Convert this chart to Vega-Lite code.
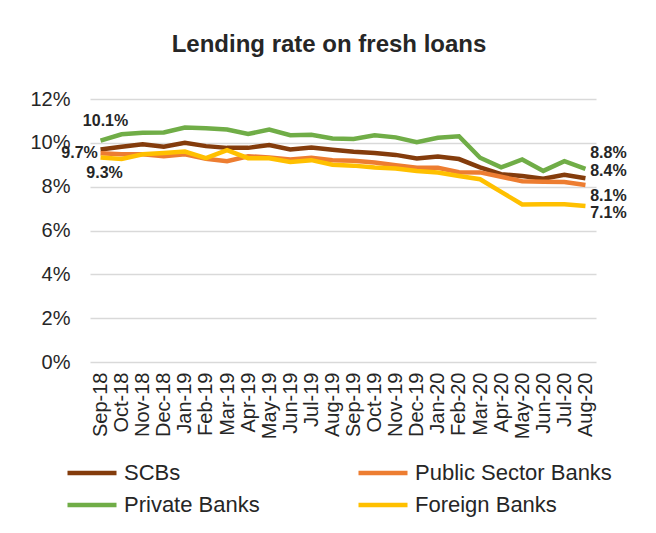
{
  "$schema": "https://vega.github.io/schema/vega-lite/v6.json",
  "width": 506,
  "height": 263,
  "autosize": {"type": "none"},
  "padding": {"left": 90, "top": 99, "right": 60, "bottom": 171},
  "background": "white",
  "title": {
    "text": "Lending rate on fresh loans",
    "font": "Liberation Sans",
    "fontSize": 24,
    "fontWeight": "bold",
    "color": "#262626",
    "anchor": "middle",
    "dx": -14,
    "offset": 32
  },
  "config": {
    "view": {"stroke": null},
    "font": "Liberation Sans"
  },
  "data": {
    "values": [
      {"month": "Sep-18", "bank": "SCBs", "rate": 9.70},
      {"month": "Oct-18", "bank": "SCBs", "rate": 9.82},
      {"month": "Nov-18", "bank": "SCBs", "rate": 9.93},
      {"month": "Dec-18", "bank": "SCBs", "rate": 9.82},
      {"month": "Jan-19", "bank": "SCBs", "rate": 10.00},
      {"month": "Feb-19", "bank": "SCBs", "rate": 9.85},
      {"month": "Mar-19", "bank": "SCBs", "rate": 9.77},
      {"month": "Apr-19", "bank": "SCBs", "rate": 9.77},
      {"month": "May-19", "bank": "SCBs", "rate": 9.90},
      {"month": "Jun-19", "bank": "SCBs", "rate": 9.70},
      {"month": "Jul-19", "bank": "SCBs", "rate": 9.79},
      {"month": "Aug-19", "bank": "SCBs", "rate": 9.68},
      {"month": "Sep-19", "bank": "SCBs", "rate": 9.59},
      {"month": "Oct-19", "bank": "SCBs", "rate": 9.54},
      {"month": "Nov-19", "bank": "SCBs", "rate": 9.45},
      {"month": "Dec-19", "bank": "SCBs", "rate": 9.29},
      {"month": "Jan-20", "bank": "SCBs", "rate": 9.38},
      {"month": "Feb-20", "bank": "SCBs", "rate": 9.26},
      {"month": "Mar-20", "bank": "SCBs", "rate": 8.88},
      {"month": "Apr-20", "bank": "SCBs", "rate": 8.57},
      {"month": "May-20", "bank": "SCBs", "rate": 8.49},
      {"month": "Jun-20", "bank": "SCBs", "rate": 8.36},
      {"month": "Jul-20", "bank": "SCBs", "rate": 8.54},
      {"month": "Aug-20", "bank": "SCBs", "rate": 8.38},
      {"month": "Sep-18", "bank": "Public Sector Banks", "rate": 9.52},
      {"month": "Oct-18", "bank": "Public Sector Banks", "rate": 9.48},
      {"month": "Nov-18", "bank": "Public Sector Banks", "rate": 9.48},
      {"month": "Dec-18", "bank": "Public Sector Banks", "rate": 9.39},
      {"month": "Jan-19", "bank": "Public Sector Banks", "rate": 9.48},
      {"month": "Feb-19", "bank": "Public Sector Banks", "rate": 9.27},
      {"month": "Mar-19", "bank": "Public Sector Banks", "rate": 9.16},
      {"month": "Apr-19", "bank": "Public Sector Banks", "rate": 9.39},
      {"month": "May-19", "bank": "Public Sector Banks", "rate": 9.33},
      {"month": "Jun-19", "bank": "Public Sector Banks", "rate": 9.24},
      {"month": "Jul-19", "bank": "Public Sector Banks", "rate": 9.32},
      {"month": "Aug-19", "bank": "Public Sector Banks", "rate": 9.21},
      {"month": "Sep-19", "bank": "Public Sector Banks", "rate": 9.18},
      {"month": "Oct-19", "bank": "Public Sector Banks", "rate": 9.10},
      {"month": "Nov-19", "bank": "Public Sector Banks", "rate": 8.98},
      {"month": "Dec-19", "bank": "Public Sector Banks", "rate": 8.86},
      {"month": "Jan-20", "bank": "Public Sector Banks", "rate": 8.86},
      {"month": "Feb-20", "bank": "Public Sector Banks", "rate": 8.66},
      {"month": "Mar-20", "bank": "Public Sector Banks", "rate": 8.65},
      {"month": "Apr-20", "bank": "Public Sector Banks", "rate": 8.45},
      {"month": "May-20", "bank": "Public Sector Banks", "rate": 8.25},
      {"month": "Jun-20", "bank": "Public Sector Banks", "rate": 8.22},
      {"month": "Jul-20", "bank": "Public Sector Banks", "rate": 8.21},
      {"month": "Aug-20", "bank": "Public Sector Banks", "rate": 8.08},
      {"month": "Sep-18", "bank": "Private Banks", "rate": 10.10},
      {"month": "Oct-18", "bank": "Private Banks", "rate": 10.39},
      {"month": "Nov-18", "bank": "Private Banks", "rate": 10.46},
      {"month": "Dec-18", "bank": "Private Banks", "rate": 10.47},
      {"month": "Jan-19", "bank": "Private Banks", "rate": 10.70},
      {"month": "Feb-19", "bank": "Private Banks", "rate": 10.67},
      {"month": "Mar-19", "bank": "Private Banks", "rate": 10.61},
      {"month": "Apr-19", "bank": "Private Banks", "rate": 10.40},
      {"month": "May-19", "bank": "Private Banks", "rate": 10.61},
      {"month": "Jun-19", "bank": "Private Banks", "rate": 10.35},
      {"month": "Jul-19", "bank": "Private Banks", "rate": 10.37},
      {"month": "Aug-19", "bank": "Private Banks", "rate": 10.20},
      {"month": "Sep-19", "bank": "Private Banks", "rate": 10.18},
      {"month": "Oct-19", "bank": "Private Banks", "rate": 10.34},
      {"month": "Nov-19", "bank": "Private Banks", "rate": 10.25},
      {"month": "Dec-19", "bank": "Private Banks", "rate": 10.03},
      {"month": "Jan-20", "bank": "Private Banks", "rate": 10.23},
      {"month": "Feb-20", "bank": "Private Banks", "rate": 10.30},
      {"month": "Mar-20", "bank": "Private Banks", "rate": 9.32},
      {"month": "Apr-20", "bank": "Private Banks", "rate": 8.88},
      {"month": "May-20", "bank": "Private Banks", "rate": 9.24},
      {"month": "Jun-20", "bank": "Private Banks", "rate": 8.72},
      {"month": "Jul-20", "bank": "Private Banks", "rate": 9.16},
      {"month": "Aug-20", "bank": "Private Banks", "rate": 8.81},
      {"month": "Sep-18", "bank": "Foreign Banks", "rate": 9.33},
      {"month": "Oct-18", "bank": "Foreign Banks", "rate": 9.26},
      {"month": "Nov-18", "bank": "Foreign Banks", "rate": 9.48},
      {"month": "Dec-18", "bank": "Foreign Banks", "rate": 9.54},
      {"month": "Jan-19", "bank": "Foreign Banks", "rate": 9.60},
      {"month": "Feb-19", "bank": "Foreign Banks", "rate": 9.30},
      {"month": "Mar-19", "bank": "Foreign Banks", "rate": 9.67},
      {"month": "Apr-19", "bank": "Foreign Banks", "rate": 9.30},
      {"month": "May-19", "bank": "Foreign Banks", "rate": 9.30},
      {"month": "Jun-19", "bank": "Foreign Banks", "rate": 9.13},
      {"month": "Jul-19", "bank": "Foreign Banks", "rate": 9.21},
      {"month": "Aug-19", "bank": "Foreign Banks", "rate": 9.00},
      {"month": "Sep-19", "bank": "Foreign Banks", "rate": 8.96},
      {"month": "Oct-19", "bank": "Foreign Banks", "rate": 8.88},
      {"month": "Nov-19", "bank": "Foreign Banks", "rate": 8.83},
      {"month": "Dec-19", "bank": "Foreign Banks", "rate": 8.71},
      {"month": "Jan-20", "bank": "Foreign Banks", "rate": 8.65},
      {"month": "Feb-20", "bank": "Foreign Banks", "rate": 8.49},
      {"month": "Mar-20", "bank": "Foreign Banks", "rate": 8.34},
      {"month": "Apr-20", "bank": "Foreign Banks", "rate": 7.76},
      {"month": "May-20", "bank": "Foreign Banks", "rate": 7.19},
      {"month": "Jun-20", "bank": "Foreign Banks", "rate": 7.20},
      {"month": "Jul-20", "bank": "Foreign Banks", "rate": 7.20},
      {"month": "Aug-20", "bank": "Foreign Banks", "rate": 7.12}
    ]
  },
  "transform": [
    {"calculate": "format(datum.rate, '.1f') + '%'", "as": "label"}
  ],
  "encoding": {
    "x": {
      "field": "month",
      "type": "ordinal",
      "sort": null,
      "scale": {"type": "point", "padding": 0.5},
      "axis": {
        "title": null,
        "labelAngle": -90,
        "labelAlign": "right",
        "labelBaseline": "middle",
        "labelFontSize": 20,
        "labelColor": "#262626",
        "labelPadding": 10,
        "ticks": false,
        "domain": false,
        "grid": false
      }
    },
    "y": {
      "field": "rate",
      "type": "quantitative",
      "scale": {"domain": [0, 12], "nice": false, "zero": true},
      "axis": {
        "title": null,
        "values": [0, 2, 4, 6, 8, 10, 12],
        "labelExpr": "datum.value + '%'",
        "labelFontSize": 20,
        "labelColor": "#262626",
        "labelPadding": 20,
        "ticks": false,
        "domain": false,
        "grid": true,
        "gridColor": "#d9d9d9",
        "gridWidth": 1.5
      }
    }
  },
  "layer": [
    {
      "mark": {"type": "line", "strokeWidth": 4.5, "strokeJoin": "miter", "strokeCap": "butt"},
      "encoding": {
        "color": {
          "field": "bank",
          "type": "nominal",
          "scale": {
            "domain": ["SCBs", "Public Sector Banks", "Private Banks", "Foreign Banks"],
            "range": ["#843C0C", "#ED7D31", "#70AD47", "#FFC000"]
          },
          "legend": {
            "title": null,
            "orient": "none",
            "legendX": -18,
            "legendY": 354,
            "columns": 2,
            "direction": "horizontal",
            "symbolType": "M-1.4,0H1.4",
            "symbolSize": 1225,
            "symbolStrokeWidth": 4.5,
            "labelFontSize": 22,
            "labelColor": "#262626",
            "labelOffset": 12,
            "columnPadding": 89,
            "rowPadding": 1,
            "padding": 0,
            "labelLimit": 300
          }
        }
      }
    },
    {
      "transform": [{"filter": "datum.month == 'Sep-18' && datum.bank == 'Private Banks'"}],
      "mark": {"type": "text", "fontWeight": "bold", "fontSize": 16, "color": "#262626", "dx": 5, "dy": -20},
      "encoding": {"text": {"field": "label"}}
    },
    {
      "transform": [{"filter": "datum.month == 'Sep-18' && datum.bank == 'SCBs'"}],
      "mark": {"type": "text", "fontWeight": "bold", "fontSize": 16, "color": "#262626", "dx": -21, "dy": 4},
      "encoding": {"text": {"field": "label"}}
    },
    {
      "transform": [{"filter": "datum.month == 'Sep-18' && datum.bank == 'Foreign Banks'"}],
      "mark": {"type": "text", "fontWeight": "bold", "fontSize": 16, "color": "#262626", "dx": 4, "dy": 15},
      "encoding": {"text": {"field": "label"}}
    },
    {
      "transform": [{"filter": "datum.month == 'Aug-20' && datum.bank == 'Private Banks'"}],
      "mark": {"type": "text", "fontWeight": "bold", "fontSize": 16, "color": "#262626", "dx": 23, "dy": -16},
      "encoding": {"text": {"field": "label"}}
    },
    {
      "transform": [{"filter": "datum.month == 'Aug-20' && datum.bank == 'SCBs'"}],
      "mark": {"type": "text", "fontWeight": "bold", "fontSize": 16, "color": "#262626", "dx": 23, "dy": -7},
      "encoding": {"text": {"field": "label"}}
    },
    {
      "transform": [{"filter": "datum.month == 'Aug-20' && datum.bank == 'Public Sector Banks'"}],
      "mark": {"type": "text", "fontWeight": "bold", "fontSize": 16, "color": "#262626", "dx": 23, "dy": 11},
      "encoding": {"text": {"field": "label"}}
    },
    {
      "transform": [{"filter": "datum.month == 'Aug-20' && datum.bank == 'Foreign Banks'"}],
      "mark": {"type": "text", "fontWeight": "bold", "fontSize": 16, "color": "#262626", "dx": 23, "dy": 7},
      "encoding": {"text": {"field": "label"}}
    }
  ]
}
